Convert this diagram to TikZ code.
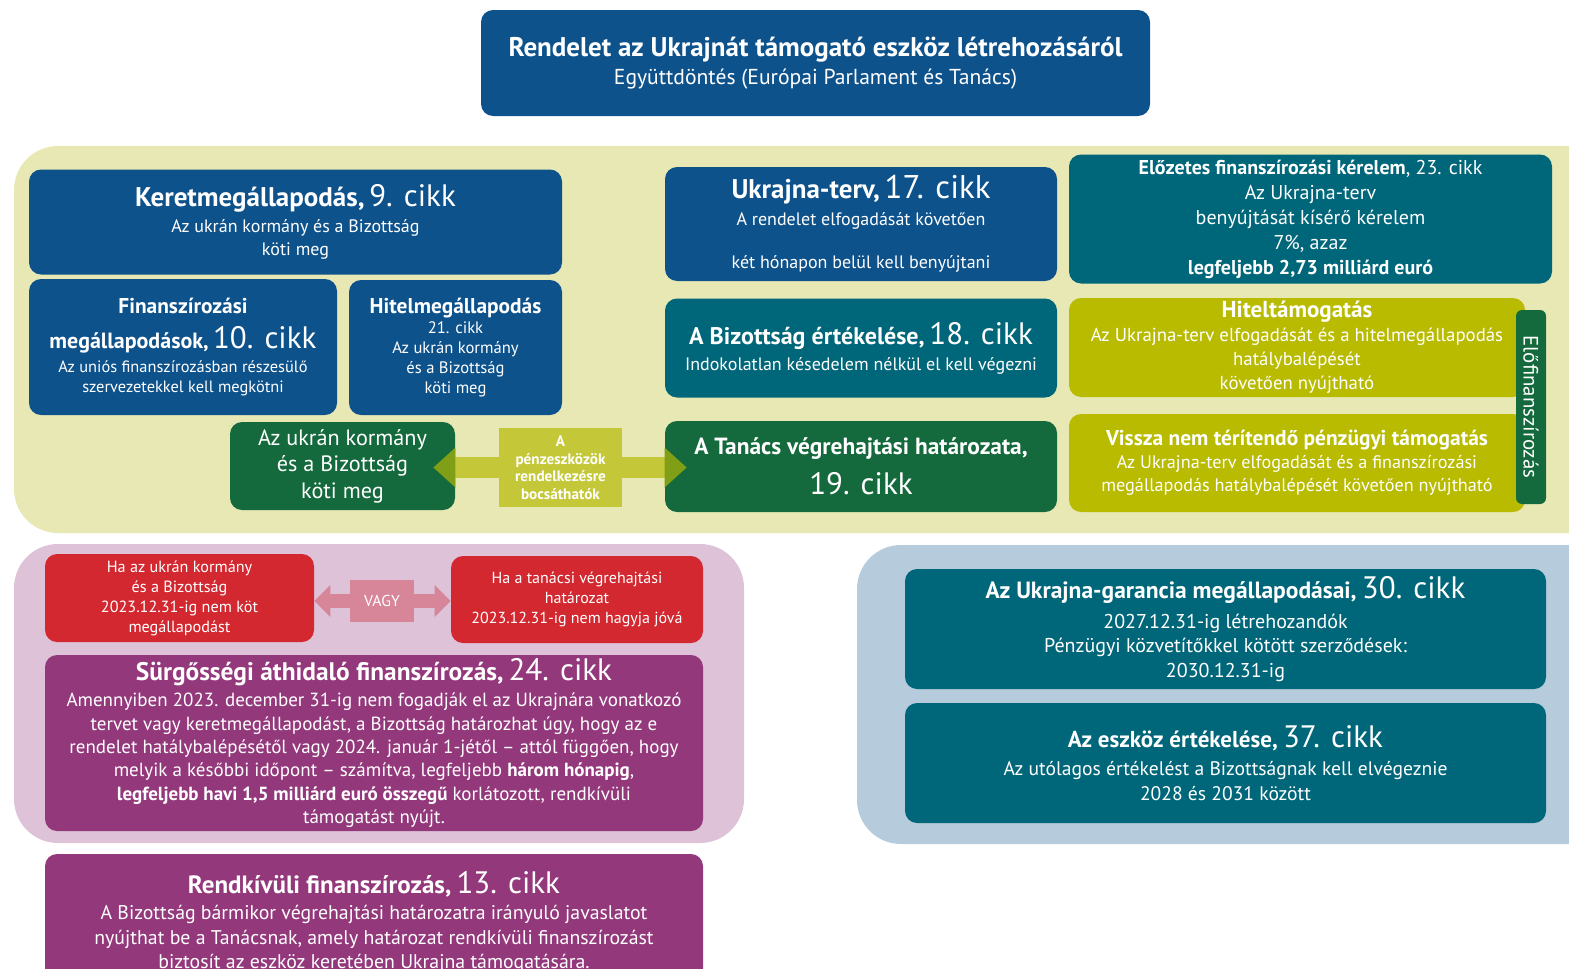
\documentclass[tikz,border=0pt]{standalone}
\usepackage{fontspec}
\setmainfont{PT Sans}
\usepackage{xcolor}
\usetikzlibrary{arrows.meta, positioning}
\definecolor{regblue}{RGB}{14, 82, 140}
\definecolor{regteal}{RGB}{0, 103, 122}
\definecolor{reggreen}{RGB}{20, 106, 60}
\definecolor{regolive}{RGB}{184, 187, 0}
\definecolor{fundlime}{RGB}{196, 200, 56}
\definecolor{fundhead}{RGB}{128, 158, 22}
\definecolor{regred}{RGB}{211, 40, 48}
\definecolor{regpurple}{RGB}{148, 56, 124}
\definecolor{vagypink}{RGB}{214, 134, 152}
\definecolor{bgyellow}{RGB}{232, 232, 180}
\definecolor{bgpink}{RGB}{221, 194, 216}
\definecolor{bgblue}{RGB}{182, 203, 219}
\newcommand{\fs}[2]{\fontsize{#1}{#2}\selectfont}
\newcommand{\cikk}[1]{{\fs{15.5}{18}#1}}
\newcommand{\hd}[2][12]{{\fs{#1}{14}\bfseries #2}}

\begin{document}
\begin{tikzpicture}[x=0.5pt, y=-0.5pt,
    card/.style={fill=#1, rounded corners=6pt, inner sep=0pt, text=white, align=center, font=\fs{9}{11.5}},
    span/.style 2 args={minimum width=#1*0.5pt, minimum height=#2*0.5pt},
    fundarrow/.style={draw=fundlime, line width=10.5pt, shorten >=-11pt,
        -{Triangle[length=11pt, width=20pt, line width=0pt, color=fundhead]}},
    vagyarrow/.style={draw=vagypink, line width=7pt,
        -{Triangle[length=8pt, width=16pt, line width=0pt]}}]
    \useasboundingbox (0,0) rectangle (1569,969);
    \clip (0,0) rectangle (1569,969);

    % Backgrounds
    \fill[bgyellow, rounded corners=22pt] (14,146) rectangle (1640,533);
    \fill[bgpink, rounded corners=22pt] (14,544) rectangle (744,843);
    \fill[bgblue, rounded corners=22pt] (857,545) rectangle (1640,844);

    % Title
    \node (rendelet) [card=regblue, span={669}{106}] at (815.5,63)
        {\hd[13.5]{Rendelet az Ukrajnát támogató eszköz létrehozásáról}\\[2.5pt]
         {\fs{10.8}{13}Együttdöntés (Európai Parlament és Tanács)}};

    % Agreements
    \node (keret) [card=regblue, span={533}{105}] at (295.5,222)
        {\hd[13.5]{Keretmegállapodás,} \cikk{9. cikk}\\[1.5pt] Az ukrán kormány és a Bizottság\\ köti meg};
    \node (finansz) [card=regblue, span={308}{136}, font=\fs{8.2}{10}] at (183,347)
        {\hd[10.7]{Finanszírozási}\\[5.5pt] \hd[11]{megállapodások,} \cikk{10. cikk}\\[2pt]
         Az uniós finanszírozásban részesülő\\ szervezetekkel kell megkötni};
    \node (hitelmeg) [card=regblue, span={213}{135}, font=\fs{8.3}{10}] at (455.5,347.5)
        {\hd[10.7]{Hitelmegállapodás}\\ 21. cikk\\ Az ukrán kormány\\ és a Bizottság\\ köti meg};
    \node (kormany) [card=reggreen, span={225}{88}, font=\fs{11.1}{13.25}] at (342.5,466)
        {Az ukrán kormány\\ és a Bizottság\\ köti meg};
    \node (penz) [fill=fundlime, text=white, align=center, inner sep=0pt, span={123}{79},
        font=\fs{7.6}{8.75}\bfseries] at (560.5,467.5)
        {A\\ pénzeszközök\\ rendelkezésre\\ bocsáthatók};

    % Plan and decision
    \node (terv) [card=regblue, span={392}{114}] at (861,224)
        {\hd[13.5]{Ukrajna-terv,} {\fs{16.4}{18}17. cikk}\\[2pt] A rendelet elfogadását követően\\[10pt]
         két hónapon belül kell benyújtani};
    \node (ertek) [card=regteal, span={392}{99}] at (861,348)
        {\hd[12]{A Bizottság értékelése,} \cikk{18. cikk}\\[1.5pt] Indokolatlan késedelem nélkül el kell végezni};
    \node (tanacs) [card=reggreen, span={392}{91}] at (861,466.5)
        {\hd[11.7]{A Tanács végrehajtási határozata,}\\[5.5pt] \cikk{19. cikk}};

    % Prefinancing
    \node (elozetes) [card=regteal, span={483}{129}, font=\fs{10}{12.5}] at (1310.5,219)
        {\textbf{Előzetes finanszírozási kérelem}, 23. cikk\\ Az Ukrajna-terv\\ benyújtását kísérő kérelem\\
         7\%, azaz\\ \textbf{legfeljebb 2,73 milliárd euró}};
    \node (hitel) [card=regolive, span={456}{99}, font=\fs{9.4}{12}] at (1297,347.5)
        {\hd[11.5]{Hiteltámogatás}\\ Az Ukrajna-terv elfogadását és a hitelmegállapodás\\
         hatálybalépését\\ követően nyújtható};
    \node (vissza) [card=regolive, span={456}{98}, font=\fs{9.1}{11.5}] at (1297,463)
        {\hd[10.7]{Vissza nem térítendő pénzügyi támogatás}\\
         Az Ukrajna-terv elfogadását és a finanszírozási\\ megállapodás hatálybalépését követően nyújtható};
    \node (elofin) [fill=reggreen, rounded corners=3pt, rotate=-90, text=white, inner sep=0pt,
        span={194}{30}, font=\fs{10.4}{12}] at (1531,407) {Előfinanszírozás};

    % Bridge financing
    \node (ha1) [card=regred, span={269}{88}, font=\fs{8.1}{10}] at (179.5,598)
        {Ha az ukrán kormány\\ és a Bizottság\\ 2023.12.31-ig nem köt\\ megállapodást};
    \node (ha2) [card=regred, span={252}{87}, font=\fs{8}{10}] at (577,599.5)
        {Ha a tanácsi végrehajtási\\ határozat\\ 2023.12.31-ig nem hagyja jóvá};
    \node (vagy) [fill=vagypink, text=white, inner sep=0pt, span={64}{42}, font=\fs{7.9}{9}] at (382,601) {VAGY};
    \node (surgos) [card=regpurple, span={658}{176}, font=\fs{9.5}{11.65}] at (374,743)
        {\hd[12.7]{Sürgősségi áthidaló finanszírozás,} \cikk{24. cikk}\\[1.5pt]
         Amennyiben 2023. december 31-ig nem fogadják el az Ukrajnára vonatkozó\\
         tervet vagy keretmegállapodást, a Bizottság határozhat úgy, hogy az e\\
         rendelet hatálybalépésétől vagy 2024. január 1-jétől – attól függően, hogy\\
         melyik a későbbi időpont – számítva, legfeljebb \textbf{három hónapig},\\
         \textbf{legfeljebb havi 1,5 milliárd euró összegű} korlátozott, rendkívüli\\
         támogatást nyújt.};
    \node (rendk) [card=regpurple, span={658}{136}, font=\fs{9.9}{12.25}] at (374,922)
        {\hd[12.5]{Rendkívüli finanszírozás,} \cikk{13. cikk}\\[1pt]
         A Bizottság bármikor végrehajtási határozatra irányuló javaslatot\\
         nyújthat be a Tanácsnak, amely határozat rendkívüli finanszírozást\\
         biztosít az eszköz keretében Ukrajna támogatására.};

    % Guarantee and evaluation
    \node (garancia) [card=regteal, span={641}{120}, font=\fs{10}{12.25}] at (1225.5,629)
        {\hd[11.75]{Az Ukrajna-garancia megállapodásai,} \cikk{30. cikk}\\[2.5pt]
         2027.12.31-ig létrehozandók\\ Pénzügyi közvetítőkkel kötött szerződések:\\ 2030.12.31-ig};
    \node (eszkoz) [card=regteal, span={641}{120}, font=\fs{9.8}{12.25}] at (1225.5,763)
        {\hd[11.5]{Az eszköz értékelése,} \cikk{37. cikk}\\[2pt]
         Az utólagos értékelést a Bizottságnak kell elvégeznie\\ 2028 és 2031 között};

    % Arrows
    \draw[fundarrow] (penz.west) -- (penz.west -| kormany.east);
    \draw[fundarrow] (penz.east) -- (penz.east -| tanacs.west);
    \draw[vagyarrow] (vagy.west) -- (vagy.west -| ha1.east);
    \draw[vagyarrow] (vagy.east) -- (vagy.east -| ha2.west);
\end{tikzpicture}
\end{document}
